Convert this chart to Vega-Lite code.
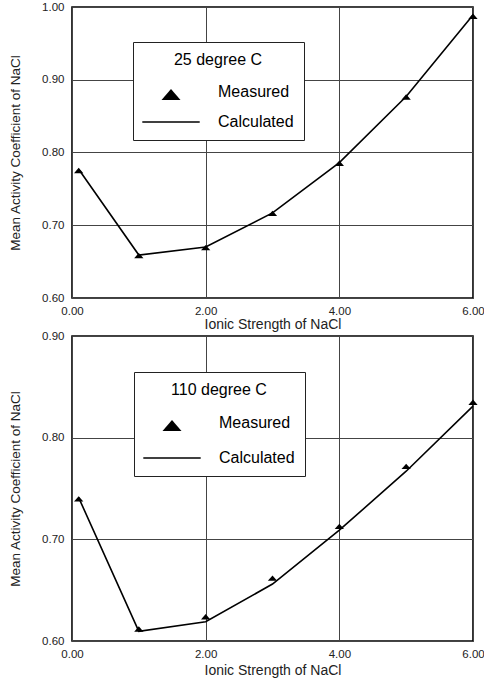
{
  "$schema": "https://vega.github.io/schema/vega-lite/v6.json",
  "padding": {"left": 7, "top": 0, "right": 0, "bottom": 0},
  "spacing": -4,
  "background": "white",
  "config": {
    "font": "Liberation Sans",
    "view": {"stroke": "black", "strokeWidth": 1.6},
    "axis": {
      "domain": false,
      "ticks": false,
      "labelFontSize": 11.5,
      "labelColor": "#222",
      "labelFlush": false,
      "labelOverlap": false,
      "titleFontSize": 14,
      "titleFontWeight": "normal",
      "titleColor": "#222",
      "gridColor": "#444",
      "gridOpacity": 1,
      "gridWidth": 1
    },
    "axisX": {"labelPadding": 7, "titlePadding": 1},
    "axisY": {"labelPadding": 8, "titlePadding": 19, "titleFontSize": 13.5}
  },
  "resolve": {"scale": {"shape": "independent"}, "legend": {"shape": "independent"}},
  "datasets": {
    "t25": [
      {"I": 0.1, "g": 0.777, "series": "Measured"},
      {"I": 1, "g": 0.660, "series": "Measured"},
      {"I": 2, "g": 0.671, "series": "Measured"},
      {"I": 3, "g": 0.718, "series": "Measured"},
      {"I": 4, "g": 0.787, "series": "Measured"},
      {"I": 5, "g": 0.878, "series": "Measured"},
      {"I": 6, "g": 0.989, "series": "Measured"},
      {"I": 0.1, "g": 0.777, "series": "Calculated"},
      {"I": 1, "g": 0.659, "series": "Calculated"},
      {"I": 2, "g": 0.670, "series": "Calculated"},
      {"I": 3, "g": 0.717, "series": "Calculated"},
      {"I": 4, "g": 0.786, "series": "Calculated"},
      {"I": 5, "g": 0.877, "series": "Calculated"},
      {"I": 6, "g": 0.989, "series": "Calculated"}
    ],
    "t110": [
      {"I": 0.1, "g": 0.741, "series": "Measured"},
      {"I": 1, "g": 0.613, "series": "Measured"},
      {"I": 2, "g": 0.625, "series": "Measured"},
      {"I": 3, "g": 0.663, "series": "Measured"},
      {"I": 4, "g": 0.714, "series": "Measured"},
      {"I": 5, "g": 0.773, "series": "Measured"},
      {"I": 6, "g": 0.836, "series": "Measured"},
      {"I": 0.1, "g": 0.741, "series": "Calculated"},
      {"I": 1, "g": 0.6095, "series": "Calculated"},
      {"I": 2, "g": 0.619, "series": "Calculated"},
      {"I": 3, "g": 0.656, "series": "Calculated"},
      {"I": 4, "g": 0.709, "series": "Calculated"},
      {"I": 5, "g": 0.767, "series": "Calculated"},
      {"I": 6, "g": 0.831, "series": "Calculated"}
    ]
  },
  "vconcat": [
    {
      "width": 401,
      "height": 291,
      "data": {"name": "t25"},
      "encoding": {
        "x": {"field": "I", "type": "quantitative", "scale": {"domain": [0, 6], "nice": false, "zero": false}, "axis": {"values": [0, 2, 4, 6], "format": ".2f", "title": "Ionic Strength of NaCl"}},
        "y": {"field": "g", "type": "quantitative", "scale": {"domain": [0.6, 1.0], "nice": false, "zero": false}, "axis": {"values": [0.6, 0.7, 0.8, 0.9, 1.0], "format": ".2f", "title": "Mean Activity Coefficient of NaCl"}}
      },
      "layer": [
        {
          "transform": [{"filter": "datum.series === 'Calculated'"}],
          "mark": {"type": "line", "color": "black", "strokeWidth": 1.6}
        },
        {
          "transform": [{"filter": "datum.series === 'Measured'"}],
          "mark": {"type": "point", "filled": true, "color": "black", "size": 24, "opacity": 1},
          "encoding": {
            "shape": {
              "field": "series", "type": "nominal",
              "scale": {"domain": ["Measured", "Calculated"], "range": ["M0,-0.6L1.9,1.6L-1.9,1.6Z", "M-5.74,-0.15L5.74,-0.15L5.74,0.15L-5.74,0.15Z"]},
              "legend": {
                "title": "25 degree C", "orient": "none", "legendX": 61, "legendY": 35,
                "padding": 10, "fillColor": "white", "strokeColor": "#222",
                "titleAnchor": "middle", "titleFontSize": 16, "titleFontWeight": "normal", "titleColor": "black", "titlePadding": 16,
                "labelFontSize": 16, "labelColor": "black", "labelOffset": 39, "symbolOffset": 20, "symbolSize": 100,
                "symbolStrokeWidth": 0, "rowPadding": 14,
                "encode": {
                  "legend": {"update": {"strokeWidth": {"value": 1.2}}},
                  "symbols": {"update": {"fill": {"value": "black"}, "opacity": {"value": 1}}}
                }
              }
            }
          }
        }
      ]
    },
    {
      "width": 401,
      "height": 305,
      "data": {"name": "t110"},
      "encoding": {
        "x": {"field": "I", "type": "quantitative", "scale": {"domain": [0, 6], "nice": false, "zero": false}, "axis": {"values": [0, 2, 4, 6], "format": ".2f", "title": "Ionic Strength of NaCl", "titlePadding": 4}},
        "y": {"field": "g", "type": "quantitative", "scale": {"domain": [0.6, 0.9], "nice": false, "zero": false}, "axis": {"values": [0.6, 0.7, 0.8, 0.9], "format": ".2f", "title": "Mean Activity Coefficient of NaCl"}}
      },
      "layer": [
        {
          "transform": [{"filter": "datum.series === 'Calculated'"}],
          "mark": {"type": "line", "color": "black", "strokeWidth": 1.6}
        },
        {
          "transform": [{"filter": "datum.series === 'Measured'"}],
          "mark": {"type": "point", "filled": true, "color": "black", "size": 24, "opacity": 1},
          "encoding": {
            "shape": {
              "field": "series", "type": "nominal",
              "scale": {"domain": ["Measured", "Calculated"], "range": ["M0,-0.6L1.9,1.6L-1.9,1.6Z", "M-5.74,-0.15L5.74,-0.15L5.74,0.15L-5.74,0.15Z"]},
              "legend": {
                "title": "110 degree C", "orient": "none", "legendX": 62, "legendY": 36,
                "padding": 10, "fillColor": "white", "strokeColor": "#222",
                "titleAnchor": "middle", "titleFontSize": 16, "titleFontWeight": "normal", "titleColor": "black", "titlePadding": 17,
                "labelFontSize": 16, "labelColor": "black", "labelOffset": 39, "symbolOffset": 20, "symbolSize": 100,
                "symbolStrokeWidth": 0, "rowPadding": 19,
                "encode": {
                  "legend": {"update": {"strokeWidth": {"value": 1.2}}},
                  "symbols": {"update": {"fill": {"value": "black"}, "opacity": {"value": 1}}}
                }
              }
            }
          }
        }
      ]
    }
  ]
}
